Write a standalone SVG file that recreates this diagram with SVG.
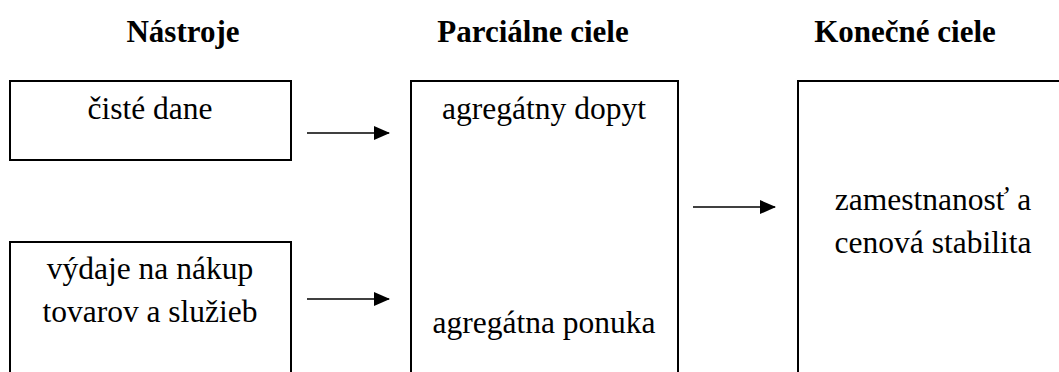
<svg xmlns="http://www.w3.org/2000/svg" width="1059" height="372" viewBox="0 0 1059 372">
  <style>
    .box { fill: #ffffff; stroke: #000000; stroke-width: 2; }
    .t { font-family: "Liberation Serif", "Times New Roman", serif; font-size: 31.5px; font-weight: normal; fill: #000000; text-anchor: middle; }
    .h { font-family: "Liberation Serif", "Times New Roman", serif; font-size: 31px; font-weight: bold; fill: #000000; text-anchor: middle; }
    .conn { stroke: #000000; stroke-width: 1.6; fill: none; }
  </style>
  <defs>
    <marker id="arrow" markerWidth="16" markerHeight="14" refX="15" refY="7" orient="auto" markerUnits="userSpaceOnUse" viewBox="0 0 16 14">
      <path d="M0,0 L16,7 L0,14 Z" fill="#000000"/>
    </marker>
  </defs>
  <rect width="1059" height="372" fill="#ffffff"/>

  <g id="headings">
    <text class="h" x="183" y="42">Nástroje</text>
    <text class="h" x="533" y="42">Parciálne ciele</text>
    <text class="h" x="905" y="42">Konečné ciele</text>
  </g>

  <g id="node-ciste-dane">
    <rect class="box" x="10" y="81" width="281" height="79"/>
    <text class="t" x="150" y="119">čisté dane</text>
  </g>

  <g id="node-vydaje">
    <rect class="box" x="10" y="242" width="281" height="140"/>
    <text class="t" x="150" y="279">výdaje na nákup</text>
    <text class="t" x="150" y="322">tovarov a služieb</text>
  </g>

  <g id="node-parcialne">
    <rect class="box" x="411" y="81" width="267" height="301"/>
    <text class="t" x="544" y="119">agregátny dopyt</text>
    <text class="t" x="544" y="333">agregátna ponuka</text>
  </g>

  <g id="node-konecne">
    <rect class="box" x="798" y="81" width="280" height="301"/>
    <text class="t" x="933" y="210">zamestnanosť a</text>
    <text class="t" x="933" y="253">cenová stabilita</text>
  </g>

  <g id="connectors">
    <line class="conn" x1="307" y1="133" x2="389" y2="133" marker-end="url(#arrow)"/>
    <line class="conn" x1="307" y1="299" x2="389" y2="299" marker-end="url(#arrow)"/>
    <line class="conn" x1="693" y1="207" x2="775" y2="207" marker-end="url(#arrow)"/>
  </g>
</svg>
